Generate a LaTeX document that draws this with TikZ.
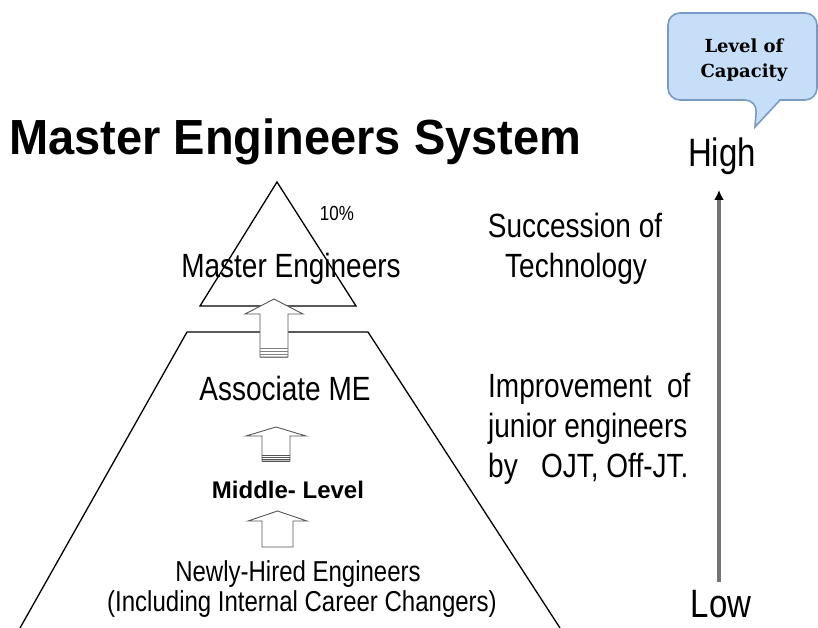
\documentclass[tikz,border=0pt]{standalone}
\usepackage{graphicx}
\usepackage{fontspec}
\setmainfont{Liberation Sans}
\newfontfamily\bubblefont{DejaVu Serif}
\usetikzlibrary{arrows.meta}
\definecolor{bubblefill}{RGB}{198,222,248}
\definecolor{bubbleline}{RGB}{122,154,198}
\definecolor{scalegray}{RGB}{115,115,115}
\definecolor{arrowgray}{RGB}{85,85,85}

% the text here is set a little taller than wide
\newcommand{\tall}[1]{\scalebox{1}[1.2]{#1}}

\tikzset{
  lvl/.style={inner sep=0pt,anchor=base,font=\fontsize{28}{32}\selectfont},
  note/.style={inner sep=0pt,anchor=base west,font=\fontsize{28}{32}\selectfont},
  scalelbl/.style={inner sep=0pt,anchor=base,font=\fontsize{33}{38}\selectfont},
  outline/.style={draw=black,line width=1.3pt},
  hollow/.style={draw=arrowgray,line width=0.9pt,fill=white},
  stripe/.style={draw=arrowgray,line width=0.8pt},
  callout/.style={draw=bubbleline,fill=bubblefill,line width=1.6pt}
}

% hollow up arrow: centre x, tip y, wing y, half head, half shaft, bottom y
\newcommand{\uparrowshape}[6]{
  \draw[hollow] (#1,#2) -- (#1+#4,#3) -- (#1+#5,#3) -- (#1+#5,#6)
    -- (#1-#5,#6) -- (#1-#5,#3) -- (#1-#4,#3) -- cycle;
}

\begin{document}
\begin{tikzpicture}[x=1pt,y=-1pt]
  \useasboundingbox (0,0) rectangle (818,628);

  % title
  \node[inner sep=0pt,anchor=base west,font=\fontsize{47}{52}\selectfont\bfseries]
    (title) at (9,155) {\scalebox{1}[1.05]{Master Engineers System}};

  % pyramid: top triangle and lower trapezoid
  \draw[outline] (200,306) -- (277,182) -- (356,306) -- cycle;
  \draw[outline] (20,628) -- (187,332) -- (368,332) -- (560,628);

  % arrows between the levels
  \uparrowshape{274}{299}{314}{29}{14}{357}
  \foreach \y in {348,351,354,357}
    \draw[stripe,draw=gray] (260,\y) -- (288,\y);
  \uparrowshape{276}{427}{436}{30}{14}{461}
  \foreach \y in {455,457,459,461}
    \draw[stripe] (262,\y) -- (290,\y);
  \uparrowshape{277.5}{511}{521}{29.5}{15.5}{547}

  % levels
  \node[lvl,font=\fontsize{17}{20}\selectfont] (pct) at (337,221) {\tall{10\%}};
  \node[lvl] (master) at (291,277) {\tall{Master Engineers}};
  \node[lvl] (assoc) at (285,400) {\tall{Associate ME}};
  \node[lvl,font=\fontsize{24}{28}\selectfont\bfseries] (middle) at (288,498) {Middle- Level};
  \node[lvl,font=\fontsize{24}{28}\selectfont] (newly) at (298,581) {\tall{Newly-Hired Engineers}};
  \node[lvl,font=\fontsize{24}{28}\selectfont] (incl) at (302,611)
    {\tall{(Including Internal Career Changers)}};

  % notes on the right
  \node[lvl] (succ) at (575,237) {\tall{Succession of}};
  \node[lvl] (tech) at (576,277) {\tall{Technology}};
  \node[note] (impr) at (488,397) {\tall{Improvement\ \ of}};
  \node[note] (junior) at (488,437) {\tall{junior engineers}};
  \node[note] (ojt) at (488,477) {\tall{by\ \ \ OJT, Off-JT.}};

  % capacity scale
  \node[scalelbl] (high) at (722,167) {\tall{High}};
  \node[scalelbl] (low) at (721,617) {\tall{Low}};
  \coordinate (lowend) at (719,582);
  \coordinate (highend) at (719,190);
  \draw[draw=scalegray,line width=3.5pt,
        -{Latex[length=10pt,width=10pt,color=black]}] (lowend) -- (highend);

  % speech bubble
  \draw[callout] (780,100) [rounded corners=12pt] -- (817,100) -- (817,13)
    -- (668,13) -- (668,100) -- (757,100) [sharp corners] -- (755,127) -- cycle;
  \node[inner sep=0pt,align=center,font=\bubblefont\bfseries\fontsize{18}{25}\selectfont]
    (capacity) at (744,60) {Level of\\Capacity};
\end{tikzpicture}
\end{document}
